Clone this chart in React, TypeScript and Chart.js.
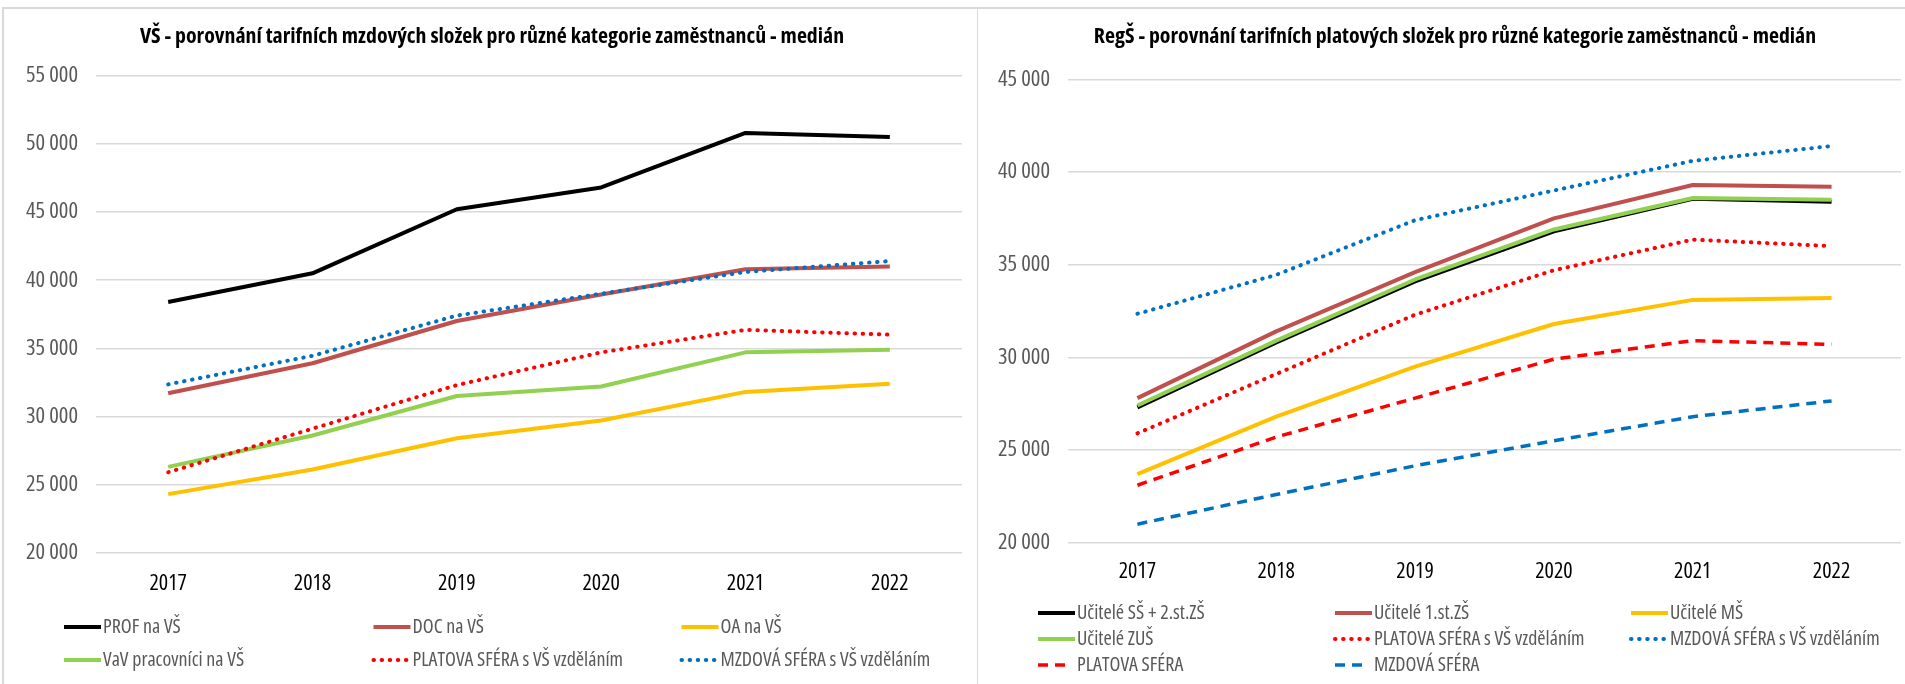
import React, { useEffect, useRef } from "react";
import { Chart, registerables } from "chart.js";

Chart.register(...registerables);

const years = ["2017", "2018", "2019", "2020", "2021", "2022"];

// Left chart (VŠ)
const profVS = [38400, 40500, 45200, 46800, 50800, 50500];
const docVS = [31700, 33900, 37000, 38950, 40800, 41000];
const oaVS = [24300, 26100, 28400, 29700, 31800, 32400];
const vavVS = [26300, 28600, 31500, 32200, 34700, 34900];
// series shown in both charts
const platovaVS = [25900, 29100, 32300, 34700, 36350, 36000];
const mzdovaVS = [32350, 34450, 37400, 39000, 40600, 41400];

// Right chart (RegŠ)
const ucitelSS = [27300, 30800, 34100, 36800, 38550, 38400];
const ucitel1st = [27800, 31400, 34600, 37500, 39300, 39200];
const ucitelMS = [23700, 26800, 29500, 31800, 33100, 33200];
const ucitelZUS = [27400, 30900, 34200, 36900, 38600, 38500];
const platova = [23100, 25700, 27800, 29900, 30900, 30700];
const mzdova = [21000, 22600, 24150, 25500, 26800, 27650];

const leftTicks = { min: 20000, max: 55000, step: 5000 };
const rightTicks = { min: 20000, max: 45000, step: 5000 };

const FAMILY = "'Open Sans', sans-serif";
const TICK_SIZE = 22.5;
const XLABEL_SIZE = 22;
const LEGEND_SIZE = 20;
const TITLE_SIZE = 21.8;

const fmt = (v: number) => String(v).replace(/\B(?=(\d{3})+(?!\d))/g, " ");

type Style = "solid" | "dot" | "dash";
function ds(label: string, data: number[], color: string, style: Style, idx: number, n: number) {
  const base: any = {
    label, data, borderColor: color, backgroundColor: color, borderWidth: 4,
    pointRadius: 0, pointHoverRadius: 0, tension: 0, fill: false,
    borderJoinStyle: "round", order: n - idx,
  };
  if (style === "dot") { base.borderDash = [0.5, 7.6]; base.borderCapStyle = "round"; }
  else if (style === "dash") { base.borderDash = [10, 7]; base.borderWidth = 3.5; base.borderCapStyle = "butt"; }
  else base.borderCapStyle = "butt";
  return base;
}

const decorPlugin = {
  id: "decor",
  afterDraw(chart: any) {
    const o = chart.config.options.decor;
    if (!o) return;
    const ctx = chart.ctx as CanvasRenderingContext2D;
    ctx.save();
    ctx.font = `bold condensed ${TITLE_SIZE}px ${FAMILY}`;
    ctx.fillStyle = "#000";
    ctx.textAlign = "center";
    ctx.textBaseline = "alphabetic";
    ctx.fillText(o.title, o.titleX, o.titleY);
    chart.data.datasets.forEach((d: any, i: number) => {
      const x = o.cols[i % 3];
      const y = o.rows[Math.floor(i / 3)];
      const dash = d.borderDash || [];
      const len = dash.length && dash[0] > 1 ? 27 : o.sampleLen;
      ctx.beginPath();
      ctx.strokeStyle = d.borderColor;
      ctx.lineWidth = d.borderWidth;
      ctx.setLineDash(dash);
      ctx.lineCap = d.borderCapStyle || "butt";
      ctx.moveTo(x, y);
      ctx.lineTo(x + len, y);
      ctx.stroke();
      ctx.setLineDash([]);
      ctx.font = `condensed ${LEGEND_SIZE}px ${FAMILY}`;
      ctx.fillStyle = "#595959";
      ctx.textAlign = "left";
      ctx.textBaseline = "middle";
      ctx.fillText(d.label, x + o.sampleLen + o.textGap, y);
    });
    ctx.restore();
  },
};

function makeConfig(p: any) {
  return {
    type: "line",
    data: { labels: years, datasets: p.datasets },
    plugins: [decorPlugin],
    options: {
      responsive: false, animation: false, events: [],
      layout: { padding: p.padding },
      plugins: { legend: { display: false }, title: { display: false }, tooltip: { enabled: false } },
      decor: p.decor,
      scales: {
        x: {
          type: "category", offset: true,
          grid: { display: false, drawTicks: false },
          border: { display: false },
          ticks: { color: "#000", font: { family: FAMILY, size: XLABEL_SIZE, weight: "condensed" }, padding: p.xPad, maxRotation: 0 },
          afterFit: (s: any) => { s.height = 60; },
        },
        y: {
          min: p.ticks.min, max: p.ticks.max,
          grid: { color: "#d9d9d9", lineWidth: 1.5, drawTicks: false },
          border: { display: false },
          ticks: { stepSize: p.ticks.step, color: "#595959", font: { family: FAMILY, size: TICK_SIZE, weight: "condensed" }, padding: 18, callback: (v: any) => fmt(Number(v)) },
          afterFit: (s: any) => { s.width = p.yWidth; },
        },
      },
    },
  };
}

function ChartCanvas({ config, width, height, left }: any) {
  const ref = useRef<HTMLCanvasElement | null>(null);
  useEffect(() => {
    if (!ref.current) return;
    const c = new Chart(ref.current, config);
    return () => c.destroy();
  }, []);
  return <canvas ref={ref} width={width} height={height} style={{ position: "absolute", left, top: 8, width, height }} />;
}

export default function App() {
  const leftN = 6;
  const leftConfig = makeConfig({
    datasets: [
      ds("PROF na VŠ", profVS, "#000000", "solid", 0, leftN),
      ds("DOC na VŠ", docVS, "#C0504D", "solid", 1, leftN),
      ds("OA na VŠ", oaVS, "#FFC000", "solid", 2, leftN),
      ds("VaV pracovníci na VŠ", vavVS, "#92D050", "solid", 3, leftN),
      ds("PLATOVA SFÉRA s VŠ vzděláním", platovaVS, "#FF0000", "dot", 4, leftN),
      ds("MZDOVÁ SFÉRA s VŠ vzděláním", mzdovaVS, "#0070C0", "dot", 5, leftN),
    ],
    padding: { top: 67.7, left: 0, right: 14, bottom: 71.3 },
    yWidth: 93, xPad: 18, ticks: leftTicks,
    decor: {
      title: "VŠ - porovnání tarifních mzdových složek pro různé kategorie zaměstnanců - medián",
      titleX: 489, titleY: 35, cols: [61, 370.5, 678.5], rows: [619, 652], sampleLen: 37, textGap: 2,
    },
  });
  const rightN = 8;
  const rightConfig = makeConfig({
    datasets: [
      ds("Učitelé SŠ + 2.st.ZŠ", ucitelSS, "#000000", "solid", 0, rightN),
      ds("Učitelé 1.st.ZŠ", ucitel1st, "#C0504D", "solid", 1, rightN),
      ds("Učitelé MŠ", ucitelMS, "#FFC000", "solid", 2, rightN),
      ds("Učitelé ZUŠ", ucitelZUS, "#92D050", "solid", 3, rightN),
      ds("PLATOVA SFÉRA s VŠ vzděláním", platovaVS, "#FF0000", "dot", 4, rightN),
      ds("MZDOVÁ SFÉRA s VŠ vzděláním", mzdovaVS, "#0070C0", "dot", 5, rightN),
      ds("PLATOVA SFÉRA", platova, "#FF0000", "dash", 6, rightN),
      ds("MZDOVÁ SFÉRA", mzdova, "#0070C0", "dash", 7, rightN),
    ],
    padding: { top: 71.3, left: 0, right: 4, bottom: 81.3 },
    yWidth: 89, xPad: 15.5, ticks: rightTicks,
    decor: {
      title: "RegŠ - porovnání tarifních platových složek pro různé kategorie zaměstnanců - medián",
      titleX: 476, titleY: 35, cols: [59, 356, 652], rows: [605, 631, 657], sampleLen: 37, textGap: 2,
    },
  });
  return (
    <div style={{ position: "absolute", left: 0, top: 0, width: 1905, height: 684, background: "#fff", overflow: "hidden" }}>
      <div style={{ position: "absolute", left: 2, top: 7, width: 1903, height: 1.5, background: "#d9d9d9" }} />
      <div style={{ position: "absolute", left: 2, top: 7, width: 1.5, height: 677, background: "#d9d9d9" }} />
      <div style={{ position: "absolute", left: 976.5, top: 7, width: 1.5, height: 677, background: "#d9d9d9" }} />
      <ChartCanvas config={leftConfig} width={973} height={676} left={3} />
      <ChartCanvas config={rightConfig} width={926} height={676} left={979} />
    </div>
  );
}
